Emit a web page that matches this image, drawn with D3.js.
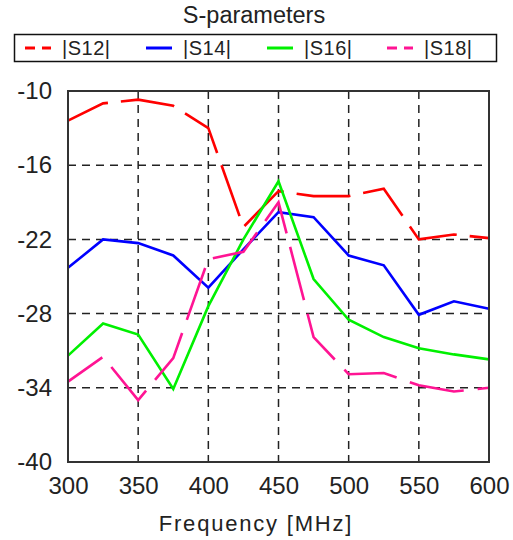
<!DOCTYPE html>
<html>
<head>
<meta charset="utf-8">
<script src="https://cdn.jsdelivr.net/npm/d3@7"></script>
<style>
  body { margin: 0; background: #fff; }
  text { font-family: "Liberation Sans", Arial, sans-serif; fill: #222; }
</style>
</head>
<body>
<div id="chart"></div>
<script>
// frequencies in MHz
var freqs = [300, 325, 350, 375, 400, 425, 450, 475, 500, 525, 550, 575, 600];

// |Sij| in dB
var s12 = [-12.4, -11.0, -10.7, -11.2, -13.0, -21.0, -18.1, -18.5, -18.5, -17.9, -22.0, -21.6, -21.9];
var s14 = [-24.3, -22.0, -22.3, -23.3, -25.9, -22.8, -19.8, -20.2, -23.3, -24.1, -28.1, -27.0, -27.6];
var s16 = [-31.4, -28.8, -29.7, -34.1, -27.4, -22.0, -17.3, -25.2, -28.5, -29.9, -30.8, -31.3, -31.7];
var s18 = [-33.5, -31.5, -35.0, -31.6, -23.6, -23.0, -19.0, -29.9, -32.9, -32.8, -33.8, -34.3, -34.0];

var seriesNames = ["|S12|", "|S14|", "|S16|", "|S18|"];
var xTicks = [300, 350, 400, 450, 500, 550, 600];
var yTicks = [-10, -16, -22, -28, -34, -40];

var series = [
    {name: seriesNames[0], values: s12, color: "#ff0000", dash: "54,13", offset: 10, legendDash: "10,7"},
    {name: seriesNames[1], values: s14, color: "#0000ff", dash: null, offset: 0, legendDash: null},
    {name: seriesNames[2], values: s16, color: "#00f000", dash: null, offset: 0, legendDash: null},
    {name: seriesNames[3], values: s18, color: "#ff1493", dash: "55,14", offset: 13, legendDash: "10,7"}
];

var W = 513, H = 540;
var margin = {top: 91, right: 24, bottom: 78, left: 68},
    width = W - margin.left - margin.right,
    height = H - margin.top - margin.bottom;

var svg = d3.select("#chart")
    .append("svg")
        .attr("width", W)
        .attr("height", H);

// title
svg.append("text")
    .attr("x", 254)
    .attr("y", 23)
    .attr("text-anchor", "middle")
    .style("font-size", "23.5px")
    .text("S-parameters");

// legend box
svg.append("rect")
    .attr("x", 14.5)
    .attr("y", 34.5)
    .attr("width", 482)
    .attr("height", 27)
    .attr("fill", "none")
    .attr("stroke", "#111")
    .attr("stroke-width", 1.5);

var legendX = [25, 146, 267, 387];
series.forEach(function(s, i) {
    var g = svg.append("g").attr("transform", "translate(" + legendX[i] + ",48)");
    g.append("line")
        .attr("x1", 0).attr("x2", 26)
        .attr("y1", 0).attr("y2", 0)
        .attr("stroke", s.color)
        .attr("stroke-width", 3)
        .attr("stroke-dasharray", s.legendDash);
    g.append("text")
        .attr("x", 37)
        .attr("y", 7)
        .style("font-size", "20px")
        .style("letter-spacing", "0.5px")
        .text(s.name);
});

var plot = svg.append("g")
    .attr("transform", "translate(" + margin.left + "," + margin.top + ")");

var x = d3.scaleLinear()
    .domain([300, 600])
    .range([0, width]);

var y = d3.scaleLinear()
    .domain([-40, -10])
    .range([height, 0]);

// dashed grid
plot.append("g")
    .selectAll("line.vgrid")
    .data(xTicks.slice(1, -1))
    .enter()
    .append("line")
        .attr("x1", function(d) { return x(d); })
        .attr("x2", function(d) { return x(d); })
        .attr("y1", 0)
        .attr("y2", height)
        .attr("stroke", "#222")
        .attr("stroke-width", 1.5)
        .attr("stroke-dasharray", "8,6");

plot.append("g")
    .selectAll("line.hgrid")
    .data(yTicks.slice(1, -1))
    .enter()
    .append("line")
        .attr("x1", 0)
        .attr("x2", width)
        .attr("y1", function(d) { return y(d); })
        .attr("y2", function(d) { return y(d); })
        .attr("stroke", "#222")
        .attr("stroke-width", 1.5)
        .attr("stroke-dasharray", "8,6");

// axes (labels only, frame drawn separately)
var xAxis = plot.append("g")
    .attr("transform", "translate(0," + height + ")")
    .call(d3.axisBottom(x).tickValues(xTicks).tickSize(0).tickPadding(15).tickFormat(d3.format("d")));
xAxis.select(".domain").remove();
xAxis.selectAll("text")
    .style("font-size", "24px")
    .style("font-family", "'Liberation Sans', Arial, sans-serif")
    .attr("fill", "#222");

var yAxis = plot.append("g")
    .call(d3.axisLeft(y).tickValues(yTicks).tickSize(0).tickPadding(16).tickFormat(function(d) { return String(d); }));
yAxis.select(".domain").remove();
yAxis.selectAll("text")
    .style("font-size", "24px")
    .style("font-family", "'Liberation Sans', Arial, sans-serif")
    .attr("fill", "#222");

// x title
svg.append("text")
    .attr("x", 256)
    .attr("y", 531)
    .attr("text-anchor", "middle")
    .style("font-size", "22px")
    .style("letter-spacing", "1.8px")
    .text("Frequency [MHz]");

// series lines
var line = d3.line()
    .x(function(d) { return x(d[0]); })
    .y(function(d) { return y(d[1]); });

series.forEach(function(s) {
    plot.append("path")
        .datum(freqs.map(function(f, i) { return [f, s.values[i]]; }))
        .attr("fill", "none")
        .attr("stroke", s.color)
        .attr("stroke-width", 2.6)
        .attr("stroke-dasharray", s.dash)
        .attr("stroke-dashoffset", s.offset)
        .attr("d", line);
});

// frame
plot.append("rect")
    .attr("x", 0)
    .attr("y", 0)
    .attr("width", width)
    .attr("height", height)
    .attr("fill", "none")
    .attr("stroke", "#333")
    .attr("stroke-width", 2);
</script>
</body>
</html>
